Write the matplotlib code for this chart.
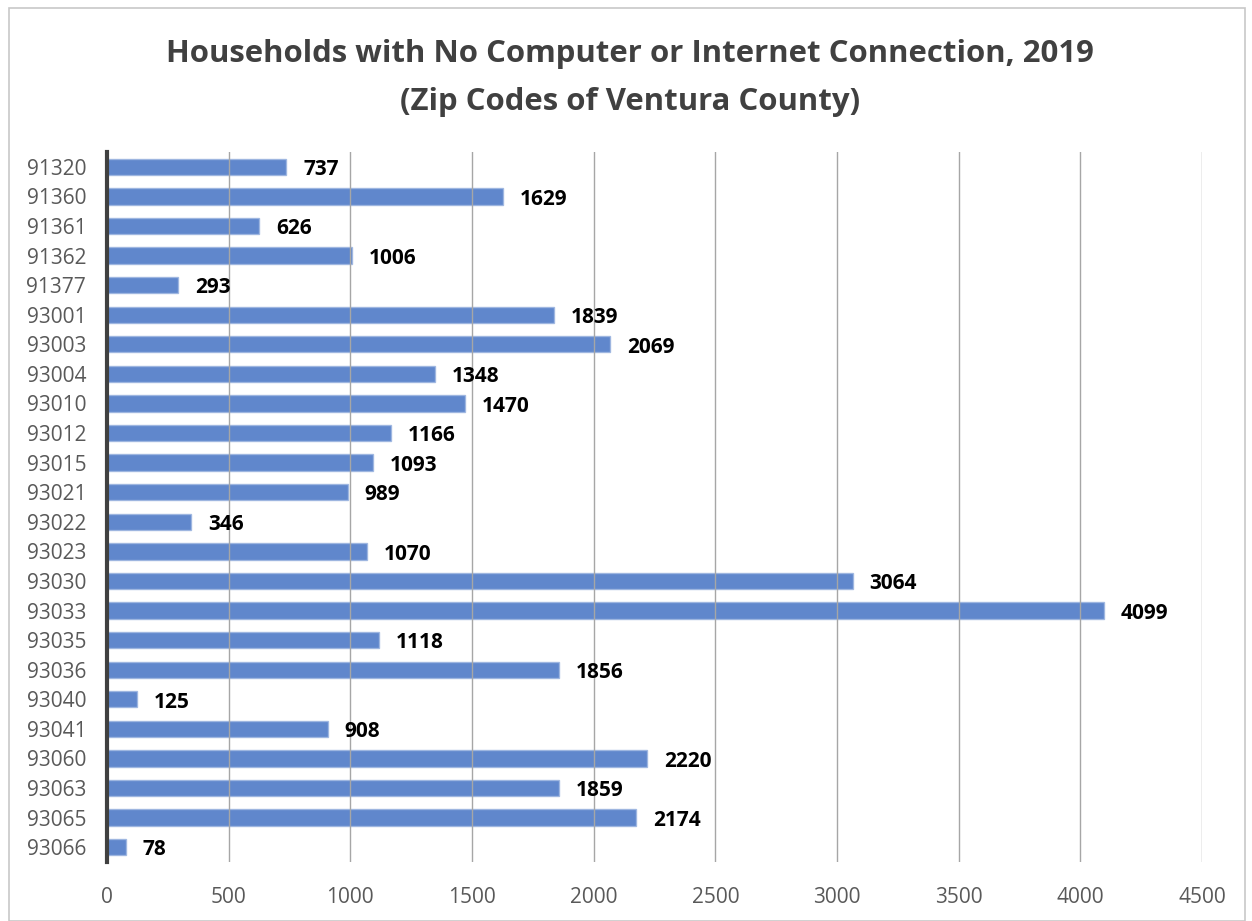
import matplotlib
matplotlib.use("Agg")
import matplotlib.pyplot as plt
from matplotlib.patches import Rectangle

zips = ["91320","91360","91361","91362","91377","93001","93003","93004","93010","93012",
        "93015","93021","93022","93023","93030","93033","93035","93036","93040","93041",
        "93060","93063","93065","93066"]
values = [737,1629,626,1006,293,1839,2069,1348,1470,1166,1093,989,346,1070,3064,4099,
          1118,1856,125,908,2220,1859,2174,78]
xticks = [0,500,1000,1500,2000,2500,3000,3500,4000,4500]
title = "Households with No Computer or Internet Connection, 2019\n(Zip Codes of Ventura County)"

plt.rcParams['font.family'] = ['Open Sans', 'DejaVu Sans']

W, H = 1252, 921
fig = plt.figure(figsize=(W/100, H/100), dpi=100)
fig.patches.append(Rectangle((9/W, 0), (1245-9)/W, (921-8)/H, transform=fig.transFigure,
                             fill=False, edgecolor="#c8c8c8", linewidth=1.2))
ax = fig.add_axes([107/W, 1-862/H, (1202-107)/W, (862-152)/H])

y = list(range(len(zips)))
ax.barh(y, values, height=0.55, color="#4472c4", alpha=0.85, edgecolor="#9bb4e0",
        linewidth=1.0, zorder=2)
ax.set_ylim(len(zips)-0.5, -0.5)
ax.set_xlim(0, 4500)
ax.set_xticks(xticks)
ax.set_xticklabels([str(t) for t in xticks])
ax.set_yticks(y)
ax.set_yticklabels(zips)
ax.grid(axis='x', color="#a6a6a6", linewidth=1.0, zorder=3)
ax.set_axisbelow(False)
for s in ["top", "right", "bottom"]:
    ax.spines[s].set_visible(False)
ax.spines["left"].set_color("#404040")
ax.spines["left"].set_linewidth(3)
ax.spines["left"].set_zorder(4)
ax.tick_params(axis='both', length=0, labelsize=15, labelcolor="#595959")
ax.tick_params(axis='y', pad=15)
ax.tick_params(axis='x', pad=18)

for yi, v in zip(y, values):
    ax.annotate(str(v), (v, yi), xytext=(12, -2), textcoords="offset points",
                ha="left", va="center", fontsize=15, fontweight="bold", color="black",
                zorder=5)

fig.text(0.503, 1-78/H, title, ha="center", va="center", fontsize=22.4, fontweight="bold",
         color="#404040", linespacing=1.78)

fig.savefig("out.png", dpi=100)
